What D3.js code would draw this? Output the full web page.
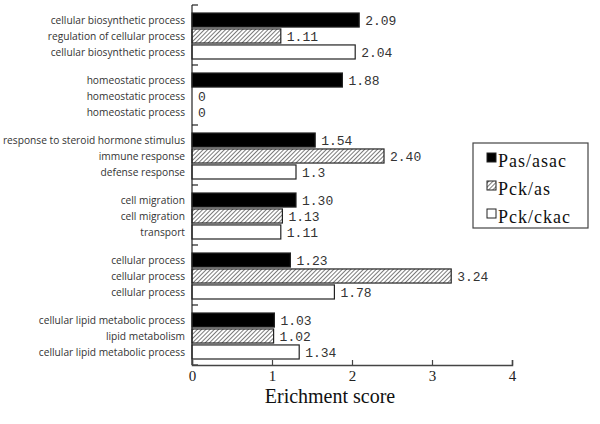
<!DOCTYPE html>
<html>
<head>
<meta charset="utf-8">
<script src="https://cdn.jsdelivr.net/npm/d3@7"></script>
<style>
  body { margin: 0; background: #fff; }
  #chart { width: 600px; height: 424px; }
</style>
</head>
<body>
<div id="chart"></div>
<script>
// data, top group first
let groups = ["g1", "g2", "g3", "g4", "g5", "g6"];
let seriesNames = ["Pas/asac", "Pck/as", "Pck/ckac"];
let categories = [
    ["cellular biosynthetic process", "regulation of cellular process", "cellular biosynthetic process"],
    ["homeostatic process", "homeostatic process", "homeostatic process"],
    ["response to steroid hormone stimulus", "immune response", "defense response"],
    ["cell migration", "cell migration", "transport"],
    ["cellular process", "cellular process", "cellular process"],
    ["cellular lipid metabolic process", "lipid metabolism", "cellular lipid metabolic process"]
];
let values = [
    [2.09, 1.11, 2.04],
    [1.88, 0, 0],
    [1.54, 2.40, 1.3],
    [1.30, 1.13, 1.11],
    [1.23, 3.24, 1.78],
    [1.03, 1.02, 1.34]
];
let valueLabels = [
    ["2.09", "1.11", "2.04"],
    ["1.88", "0", "0"],
    ["1.54", "2.40", "1.3"],
    ["1.30", "1.13", "1.11"],
    ["1.23", "3.24", "1.78"],
    ["1.03", "1.02", "1.34"]
];
let xTicks = [0, 1, 2, 3, 4];

let svg = d3.select("#chart").append("svg")
    .attr("width", 600)
    .attr("height", 424);

// hatch pattern for the middle series
let defs = svg.append("defs");
let pat = defs.append("pattern")
    .attr("id", "hatch")
    .attr("patternUnits", "userSpaceOnUse")
    .attr("width", 3)
    .attr("height", 3)
    .attr("patternTransform", "rotate(45)");
pat.append("rect").attr("width", 3).attr("height", 3).attr("fill", "#fff");
pat.append("line")
    .attr("x1", 0).attr("y1", 0).attr("x2", 0).attr("y2", 3)
    .attr("stroke", "#333").attr("stroke-width", 1.3);

let x = d3.scaleLinear().domain([0, 4]).range([192, 512]);
let y = d3.scaleBand().domain(groups).range([5, 365]);
let yInner = d3.scaleBand().domain(d3.range(3)).range([8, 54]).paddingInner(0.12);

let fills = ["#000", "url(#hatch)", "#fff"];

// rows
let rows = [];
groups.forEach(function(g, gi) {
    for (let s = 0; s < 3; s++) {
        rows.push({g: g, s: s, v: values[gi][s], label: valueLabels[gi][s], cat: categories[gi][s]});
    }
});

svg.selectAll("rect.bar")
    .data(rows.filter(d => d.v > 0))
    .enter()
    .append("rect")
    .attr("class", "bar")
    .attr("x", x(0))
    .attr("y", d => y(d.g) + yInner(d.s))
    .attr("width", d => x(d.v) - x(0))
    .attr("height", yInner.bandwidth())
    .attr("fill", d => fills[d.s])
    .attr("stroke", "#222")
    .attr("stroke-width", 1.2);

svg.selectAll("text.val")
    .data(rows)
    .enter()
    .append("text")
    .attr("class", "val")
    .attr("x", d => x(d.v) + 6)
    .attr("y", d => y(d.g) + yInner(d.s) + yInner.bandwidth() / 2)
    .attr("dy", "0.38em")
    .style("font-family", "'Liberation Mono', 'DejaVu Sans Mono', monospace")
    .style("font-size", "13px")
    .style("fill", "#333")
    .text(d => d.label);

svg.selectAll("text.cat")
    .data(rows)
    .enter()
    .append("text")
    .attr("class", "cat")
    .attr("x", 185)
    .attr("y", d => y(d.g) + yInner(d.s) + yInner.bandwidth() / 2)
    .attr("dy", "0.35em")
    .attr("text-anchor", "end")
    .style("font-family", "'Open Sans', 'DejaVu Sans', sans-serif")
    .style("font-size", "10.2px")
    .style("fill", "#333")
    .text(d => d.cat);

// left axis with small group ticks
svg.append("line")
    .attr("x1", x(0)).attr("x2", x(0))
    .attr("y1", 5).attr("y2", 365)
    .attr("stroke", "#222").attr("stroke-width", 1.2);
svg.selectAll("line.gtick")
    .data(groups.concat(["end"]))
    .enter()
    .append("line")
    .attr("class", "gtick")
    .attr("x1", x(0)).attr("x2", x(0) + 6)
    .attr("y1", (d, i) => 5 + i * y.step())
    .attr("y2", (d, i) => 5 + i * y.step())
    .attr("stroke", "#222").attr("stroke-width", 1.2);

// bottom axis
let xAxis = svg.append("g")
    .attr("transform", "translate(0,365)")
    .call(d3.axisBottom(x).tickValues(xTicks).tickSize(-5).tickPadding(5).tickFormat(d3.format("d")));
xAxis.select(".domain").attr("stroke", "#444").attr("stroke-width", 1.5);
xAxis.selectAll(".tick line").attr("stroke", "#444").attr("stroke-width", 1.2);
xAxis.selectAll(".tick text")
    .style("font-family", "'Liberation Serif', 'Times New Roman', serif")
    .style("font-size", "15px")
    .style("fill", "#222");

svg.append("text")
    .attr("x", 330)
    .attr("y", 403)
    .attr("text-anchor", "middle")
    .style("font-family", "'Liberation Serif', 'Times New Roman', serif")
    .style("font-size", "20px")
    .style("fill", "#111")
    .text("Erichment score");

// legend
let legend = svg.append("g");
legend.append("rect")
    .attr("x", 473).attr("y", 143)
    .attr("width", 115).attr("height", 85)
    .attr("fill", "#fff")
    .attr("stroke", "#444").attr("stroke-width", 1.2);
let items = legend.selectAll("g.item")
    .data(seriesNames)
    .enter()
    .append("g")
    .attr("transform", (d, i) => `translate(487,${167 + i * 28})`);
items.append("rect")
    .attr("x", 0).attr("y", -14)
    .attr("width", 9).attr("height", 9)
    .attr("fill", (d, i) => fills[i])
    .attr("stroke", "#222").attr("stroke-width", 1);
items.append("text")
    .attr("x", 11)
    .attr("y", 0)
    .style("font-family", "'Liberation Serif', 'Times New Roman', serif")
    .style("font-size", "18px")
    .style("letter-spacing", "1px")
    .style("fill", "#111")
    .text(d => d);
</script>
</body>
</html>
